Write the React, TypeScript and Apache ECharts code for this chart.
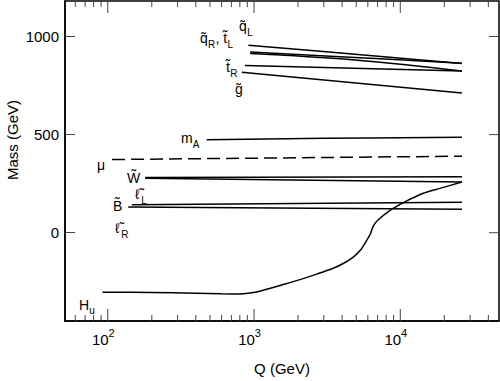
import React, { useEffect, useRef } from 'react';
import * as echarts from 'echarts';

const FONT = '"Liberation Sans", Arial, Helvetica, sans-serif';

const X_MIN = 51;
const X_MAX = 47300;
const Y_MIN = -450;
const Y_MAX = 1181;

const yTickValues = [0, 500, 1000];
const xMajorTicks = [100, 1000, 10000];
const xMinorTicks = [
  60, 70, 80, 90, 200, 300, 400, 500, 600, 700, 800, 900,
  2000, 3000, 4000, 5000, 6000, 7000, 8000, 9000, 20000, 30000, 40000,
];

// sparticle running masses (GeV) vs Q (GeV)
const qLQ = [914, 4900, 26400];
const qLMass = [955, 910, 863];
const qRQ = [940, 4900, 26400];
const qRMass = [921, 893, 864];
const tLQ = [940, 4900, 26400];
const tLMass = [913, 880, 824];
const tRQ = [867, 26400];
const tRMass = [852, 824];
const gluinoQ = [824, 26400];
const gluinoMass = [818, 712];
const mAQ = [475, 3000, 26400];
const mAMass = [474, 481, 487];
const muQ = [107, 26400];
const muMass = [373, 390];
const wQ = [180, 26400];
const wMass = [282, 285];
const lLQ = [180, 26400];
const lLMass = [278, 259];
const bQ = [146, 26400];
const bMass = [142, 155];
const lRQ = [138, 26400];
const lRMass = [131, 119];
const huQ = [92, 200, 400, 600, 800, 990, 1220, 1585, 2060, 2680, 3480, 4070, 4770, 5310, 5880, 6250, 6500, 6820, 7260, 7980, 8960, 11070, 14350, 18660, 26400];
const huMass = [-303, -305, -308, -311, -312, -305, -288, -264, -239, -211, -181, -157, -124, -91, -40, -5, 30, 54, 74, 99, 124, 162, 201, 226, 258];

const lineSeries = (name: string, qs: number[], ms: number[], opts: any = {}) => ({
  type: 'line',
  name,
  data: qs.map((q, i) => [q, ms[i]]),
  showSymbol: false,
  symbol: 'none',
  smooth: opts.smooth ?? (qs.length > 2 ? 0.4 : false),
  silent: true,
  lineStyle: { color: '#000', width: 1.5, type: opts.dashed ? [13, 6] : 'solid' },
});

const TICK_STYLE = { stroke: '#444', lineWidth: 1 };

// x ticks (log decades + minor) drawn inside, bottom and top
const xTickSeries = (values: number[], len: number) => ({
  type: 'custom',
  silent: true,
  clip: false,
  data: values.map((v) => [v, 0]),
  renderItem: (_params: any, api: any) => {
    const v = api.value(0);
    const b = api.coord([v, Y_MIN]);
    const t = api.coord([v, Y_MAX]);
    return {
      type: 'group',
      children: [
        { type: 'line', shape: { x1: b[0], y1: b[1], x2: b[0], y2: b[1] - len }, style: TICK_STYLE },
        { type: 'line', shape: { x1: t[0], y1: t[1], x2: t[0], y2: t[1] + len }, style: TICK_STYLE },
      ],
    };
  },
});

// right-side y ticks (mirror of the left axis)
const yRightTickSeries = (values: number[], len: number) => ({
  type: 'custom',
  silent: true,
  clip: false,
  data: values.map((v) => [X_MAX, v]),
  renderItem: (_params: any, api: any) => {
    const p = api.coord([X_MAX, api.value(1)]);
    return { type: 'line', shape: { x1: p[0], y1: p[1], x2: p[0] - len, y2: p[1] }, style: TICK_STYLE };
  },
});

// ---- symbol labels: main glyph (with combining tilde) + subscript ----
const MAIN = 14;
const SUB = 10;
const TXT = (x: number, baseline: number, text: string, size: number) => ({
  type: 'text',
  x,
  y: baseline - 0.82 * size,
  silent: true,
  style: { text, fill: '#000', font: `${size}px ${FONT}`, textAlign: 'left', textVerticalAlign: 'top' },
});
const TIL = '\u0303';

const labels: any[] = [
  TXT(239, 30, 'q' + TIL, MAIN), TXT(247.3, 35.5, 'L', SUB),
  TXT(200, 42, 'q' + TIL, MAIN), TXT(208, 47.5, 'R', SUB), TXT(215.5, 42, ', t' + TIL, MAIN), TXT(227.5, 47.5, 'L', SUB),
  TXT(226, 71, 't' + TIL, MAIN), TXT(230.2, 76.5, 'R', SUB),
  TXT(235, 93, 'g' + TIL, MAIN),
  TXT(181, 142.5, 'm', MAIN), TXT(192.8, 148, 'A', SUB),
  TXT(97, 169, 'μ', MAIN),
  TXT(127, 182, 'W' + TIL, MAIN),
  TXT(135, 198.5, 'ℓ' + TIL, MAIN), TXT(141.2, 204, 'L', SUB),
  TXT(113, 210, 'B' + TIL, MAIN),
  TXT(115, 232, 'ℓ' + TIL, MAIN), TXT(121.2, 237.5, 'R', SUB),
  TXT(79, 309, 'H', MAIN), TXT(89.3, 314, 'u', SUB),
  {
    type: 'text',
    x: 12,
    y: 140,
    rotation: Math.PI / 2,
    silent: true,
    style: { text: 'Mass (GeV)', fill: '#000', font: `15px ${FONT}`, textAlign: 'center', textVerticalAlign: 'middle' },
  },
];

const axisLine = { show: true, onZero: false, lineStyle: { color: '#000', width: 1.5 } };

const option: any = {
  animation: false,
  backgroundColor: '#fff',
  textStyle: { fontFamily: FONT },
  grid: {
    left: 65,
    top: 1,
    width: 434,
    height: 330,
    containLabel: false,
    show: true,
    borderColor: '#000',
    borderWidth: 1.5,
    backgroundColor: 'transparent',
  },
  xAxis: {
    type: 'log',
    logBase: 10,
    min: X_MIN,
    max: X_MAX,
    position: 'bottom',
    axisLine,
    axisTick: { show: false },
    splitLine: { show: false },
    name: 'Q (GeV)',
    nameLocation: 'middle',
    nameGap: 40,
    nameTextStyle: { fontSize: 15, color: '#000', fontFamily: FONT },
    axisLabel: {
      showMinLabel: false,
      showMaxLabel: false,
      margin: 6,
      formatter: (v: number) => `{b|10}{s|${Math.round(Math.log10(v))}}`,
      rich: {
        b: { fontSize: 15, color: '#000', fontFamily: FONT, lineHeight: 20, verticalAlign: 'bottom' },
        s: { fontSize: 11, color: '#000', fontFamily: FONT, lineHeight: 11, verticalAlign: 'top', padding: [0, 9, 0, 0] },
      },
    },
  },
  yAxis: {
    type: 'value',
    min: Y_MIN,
    max: Y_MAX,
    position: 'left',
    axisLine,
    splitLine: { show: false },
    axisTick: { show: true, inside: true, length: 10, customValues: yTickValues, lineStyle: { color: '#444', width: 1 } },
    axisLabel: {
      customValues: yTickValues,
      fontSize: 15,
      color: '#000',
      margin: 6,
      fontFamily: FONT,
      formatter: (v: number) => String(v),
    },
  },
  series: [
    xTickSeries(xMajorTicks, 12),
    xTickSeries(xMinorTicks, 6),
    yRightTickSeries(yTickValues, 10),
    lineSeries('qL', qLQ, qLMass),
    lineSeries('qR', qRQ, qRMass),
    lineSeries('tL', tLQ, tLMass),
    lineSeries('tR', tRQ, tRMass),
    lineSeries('gluino', gluinoQ, gluinoMass),
    lineSeries('mA', mAQ, mAMass),
    lineSeries('mu', muQ, muMass, { dashed: true }),
    lineSeries('W', wQ, wMass),
    lineSeries('lL', lLQ, lLMass),
    lineSeries('B', bQ, bMass),
    lineSeries('lR', lRQ, lRMass),
    lineSeries('Hu', huQ, huMass, { smooth: 0.3 }),
  ],
  graphic: labels,
};

export default function App() {
  const ref = useRef<HTMLDivElement>(null);
  useEffect(() => {
    const chart = echarts.init(ref.current!, null, { renderer: 'svg' });
    chart.setOption(option);
    return () => chart.dispose();
  }, []);
  return (
    <div
      ref={ref}
      style={{ position: 'absolute', left: 0, top: 0, width: 500, height: 381, background: '#fff' }}
    />
  );
}
